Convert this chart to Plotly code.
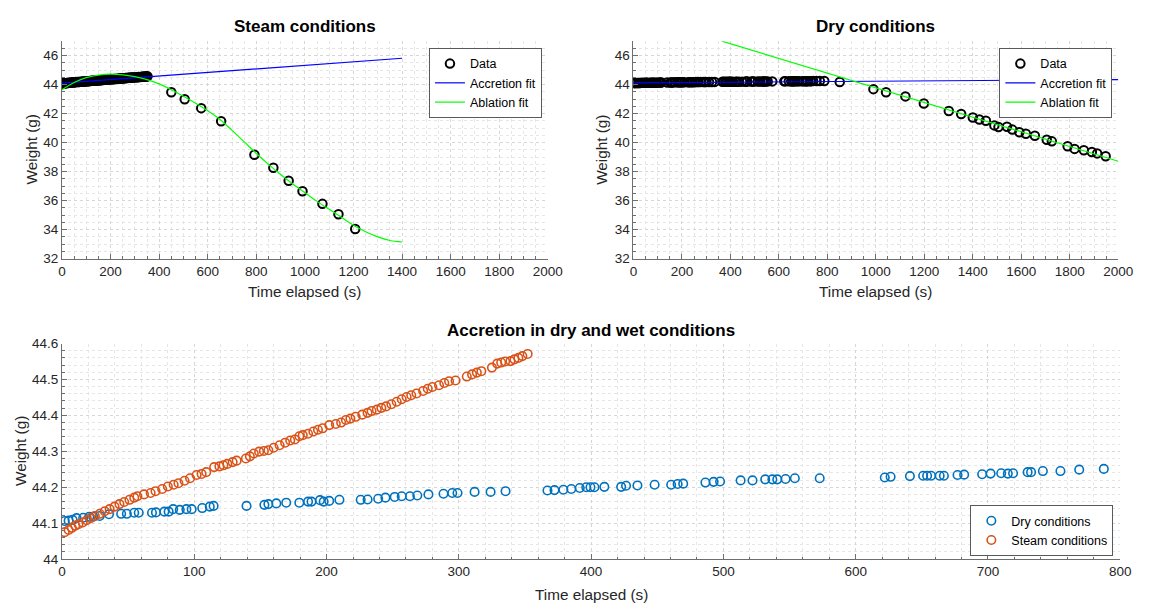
import plotly.graph_objects as go

W, H = 1149, 610

# ---------------- data ----------------
steam_acc_t = [2, 5, 7.4, 10, 12.4, 15.6, 18.6, 21.6, 24.8, 28.5, 32.3, 36, 39.7, 43.4, 47, 51, 54.6, 57, 62, 67,
               70.7, 75.7, 80, 84.4, 88, 92.6, 96.8, 101.7, 105.5, 109, 115, 119, 122, 125, 129, 132, 139, 142, 145,
               149, 152.6, 156, 160, 164.5, 168.7, 172.5, 176, 179.4, 182, 186, 190, 193.5, 197, 202, 207, 211,
               214.6, 218, 222, 227, 231, 234, 238, 241.4, 245, 249, 253, 256.8, 260.5, 264, 268, 273, 276.5, 280,
               285, 289, 292.6, 297.5, 306, 310, 313.6, 317, 325, 329, 332, 335, 339, 342, 345, 348, 352]
steam_acc_w = [44.075, 44.081, 44.087, 44.093, 44.097, 44.102, 44.108, 44.114, 44.12, 44.126, 44.133, 44.139,
               44.146, 44.153, 44.159, 44.165, 44.171, 44.175, 44.18, 44.184, 44.189, 44.195, 44.202, 44.207,
               44.211, 44.218, 44.225, 44.234, 44.237, 44.242, 44.256, 44.258, 44.261, 44.265, 44.27, 44.274,
               44.28, 44.286, 44.294, 44.299, 44.301, 44.303, 44.31, 44.317, 44.324, 44.33, 44.333, 44.342,
               44.345, 44.349, 44.355, 44.36, 44.364, 44.373, 44.376, 44.38, 44.387, 44.391, 44.396, 44.402,
               44.407, 44.412, 44.416, 44.421, 44.425, 44.431, 44.438, 44.445, 44.451, 44.456, 44.461, 44.468,
               44.474, 44.479, 44.484, 44.49, 44.495, 44.497, 44.508, 44.514, 44.519, 44.523, 44.533, 44.544,
               44.547, 44.55, 44.551, 44.556, 44.56, 44.565, 44.571]

steam_abl_t = [450, 505, 573, 655, 792, 870, 933, 990, 1072, 1138, 1207]
steam_abl_w = [43.48, 42.99, 42.38, 41.48, 39.17, 38.27, 37.37, 36.65, 35.78, 35.06, 34.04]

steam_accfit_t = [0, 1400]
steam_accfit_w = [44.1, 45.82]

steam_ablfit_t = [0, 50, 100, 150, 200, 250, 300, 350, 400, 450, 500, 550, 600, 650, 700, 750, 800, 850, 900,
                  950, 1000, 1050, 1100, 1150, 1200, 1250, 1300, 1350, 1400]
steam_ablfit_w = [43.65, 44.15, 44.48, 44.66, 44.72, 44.68, 44.55, 44.35, 44.05, 43.65, 43.2, 42.72, 42.2,
                  41.6, 40.85, 40.05, 39.25, 38.5, 37.8, 37.15, 36.55, 35.95, 35.4, 34.85, 34.3, 33.85, 33.5,
                  33.25, 33.15]

dry_acc_t = [2, 5, 8, 11, 16, 20.6, 23.6, 28.5, 35.5, 44.7, 49, 54.6, 58, 68, 71, 77.4, 80.6, 84, 89, 94, 98,
             106, 111.7, 114.6, 139.5, 153, 156, 162, 169.5, 179.4, 186, 188.6, 195, 197.8, 202, 209.7, 225.8,
             231, 239, 244.5, 251.5, 256.8, 263, 268.6, 277, 288.4, 295, 299, 311.9, 324, 335.3, 367, 372.3, 379,
             385, 391.4, 396.3, 399.5, 402.5, 410, 422.7, 426.4, 435, 448, 460.5, 465.4, 469.6, 486.4, 492.6,
             497.5, 513, 522, 531.6, 537, 540.7, 547, 554, 572.8, 622, 626.4, 641, 651, 654, 657, 663.5, 666.7,
             677, 682, 695.6, 702, 710, 715, 719, 730, 732.6, 741.5, 754.8, 769, 787.6]
dry_acc_w = [44.106, 44.107, 44.109, 44.114, 44.115, 44.118, 44.118, 44.12, 44.125, 44.126, 44.126, 44.129,
             44.129, 44.129, 44.13, 44.132, 44.132, 44.139, 44.137, 44.139, 44.139, 44.142, 44.146, 44.148,
             44.148, 44.151, 44.153, 44.155, 44.157, 44.157, 44.16, 44.16, 44.164, 44.16, 44.162, 44.165,
             44.165, 44.166, 44.168, 44.171, 44.173, 44.175, 44.175, 44.177, 44.18, 44.182, 44.184, 44.184,
             44.187, 44.187, 44.189, 44.191, 44.192, 44.193, 44.195, 44.198, 44.2, 44.2, 44.2, 44.201, 44.201,
             44.204, 44.205, 44.207, 44.207, 44.209, 44.21, 44.213, 44.215, 44.216, 44.219, 44.219, 44.222,
             44.222, 44.222, 44.223, 44.225, 44.225, 44.227, 44.229, 44.231, 44.232, 44.232, 44.232, 44.232,
             44.232, 44.234, 44.235, 44.236, 44.238, 44.239, 44.238, 44.239, 44.242, 44.242, 44.245, 44.245,
             44.249, 44.251]

dry_abl_t = [851, 990, 1042, 1122, 1198, 1301, 1352, 1400, 1427, 1454, 1489, 1506, 1541, 1563, 1592, 1619, 1656,
             1705, 1726, 1791, 1820, 1858, 1891, 1913, 1948]
dry_abl_w = [44.18, 43.69, 43.48, 43.19, 42.70, 42.18, 41.98, 41.73, 41.60, 41.51, 41.19, 41.08, 41.10, 40.90,
             40.72, 40.61, 40.47, 40.20, 40.09, 39.75, 39.57, 39.48, 39.35, 39.26, 39.06]

dry_accfit_t = [0, 2000]
dry_accfit_w = [44.12, 44.35]

dry_ablfit_t = [365, 2000]
dry_ablfit_w = [47.0, 38.72]

top_xticks = [0, 200, 400, 600, 800, 1000, 1200, 1400, 1600, 1800, 2000]
top_yticks = [32, 34, 36, 38, 40, 42, 44, 46]
bot_xticks = [0, 100, 200, 300, 400, 500, 600, 700, 800]
bot_yticks = [44.0, 44.1, 44.2, 44.3, 44.4, 44.5, 44.6]
bot_yticklabels = ["44", "44.1", "44.2", "44.3", "44.4", "44.5", "44.6"]

# ---------------- styling ----------------
FONT = "Liberation Sans, Arial, Helvetica, sans-serif"
TXT = "#262626"
AXC = "#6e6e6e"
GRID = "#d6d6d6"
MGRID = "#e6e6e6"


def px(xp):
    return xp / W


def py(yp):
    return 1 - yp / H


def axis(domain, anchor, rng, tickvals, ticktext, minor_dtick):
    return dict(
        domain=domain, anchor=anchor, range=rng, tickmode="array", tickvals=tickvals, ticktext=ticktext,
        showline=True, linecolor=AXC, linewidth=1, mirror=False,
        ticks="inside", ticklen=5, tickcolor=AXC, tickwidth=1,
        tickfont=dict(family=FONT, size=13.5, color=TXT),
        showgrid=True, gridcolor=GRID, griddash="dot", gridwidth=1,
        zeroline=False, fixedrange=True,
        minor=dict(dtick=minor_dtick, tick0=rng[0], ticks="inside", ticklen=2.5, tickcolor=AXC,
                   showgrid=True, gridcolor=MGRID, griddash="dot", gridwidth=1),
    )


fig = go.Figure()

open_black = dict(symbol="circle-open", size=8.5, color="black", line=dict(width=2, color="black"))

# Top-left: steam
fig.add_trace(go.Scatter(x=steam_acc_t + steam_abl_t, y=steam_acc_w + steam_abl_w, mode="markers",
                         marker=open_black, name="Data", xaxis="x", yaxis="y", legend="legend"))
fig.add_trace(go.Scatter(x=steam_accfit_t, y=steam_accfit_w, mode="lines", line=dict(color="#0000ff", width=1.2),
                         name="Accretion fit", xaxis="x", yaxis="y", legend="legend"))
fig.add_trace(go.Scatter(x=steam_ablfit_t, y=steam_ablfit_w, mode="lines",
                         line=dict(color="#00ff00", width=1.2, shape="spline"),
                         name="Ablation fit", xaxis="x", yaxis="y", legend="legend"))

# Top-right: dry
fig.add_trace(go.Scatter(x=dry_acc_t + dry_abl_t, y=dry_acc_w + dry_abl_w, mode="markers",
                         marker=open_black, name="Data", xaxis="x2", yaxis="y2", legend="legend2"))
fig.add_trace(go.Scatter(x=dry_accfit_t, y=dry_accfit_w, mode="lines", line=dict(color="#0000ff", width=1.2),
                         name="Accretion fit", xaxis="x2", yaxis="y2", legend="legend2"))
fig.add_trace(go.Scatter(x=dry_ablfit_t, y=dry_ablfit_w, mode="lines", line=dict(color="#00ff00", width=1.2),
                         name="Ablation fit", xaxis="x2", yaxis="y2", legend="legend2"))

# Bottom
fig.add_trace(go.Scatter(x=dry_acc_t, y=dry_acc_w, mode="markers",
                         marker=dict(symbol="circle-open", size=8.5, color="#0072BD", line=dict(width=1.6, color="#0072BD")),
                         name="Dry conditions", xaxis="x3", yaxis="y3", legend="legend3"))
fig.add_trace(go.Scatter(x=steam_acc_t, y=steam_acc_w, mode="markers",
                         marker=dict(symbol="circle-open", size=8.5, color="#D95319", line=dict(width=1.6, color="#D95319")),
                         name="Steam conditions", xaxis="x3", yaxis="y3", legend="legend3"))

top_dom_y = [py(258), py(35)]
bot_dom_y = [py(566), py(345)]

legend_style = dict(bgcolor="white", bordercolor="#5a5a5a", borderwidth=1,
                    font=dict(family=FONT, size=12.5, color="black"),
                    xanchor="right", itemwidth=30, tracegroupgap=0)

fig.update_layout(
    width=W, height=H, margin=dict(l=0, r=0, t=0, b=0),
    paper_bgcolor="white", plot_bgcolor="white", showlegend=True,
    xaxis=axis([px(59), px(553)], "y", [0, 2000], top_xticks, [str(v) for v in top_xticks], 50),
    yaxis=axis(top_dom_y, "x", [32, 47], top_yticks, [str(v) for v in top_yticks], 0.5),
    xaxis2=axis([px(640), px(1133)], "y2", [0, 2000], top_xticks, [str(v) for v in top_xticks], 50),
    yaxis2=axis(top_dom_y, "x2", [32, 47], top_yticks, [str(v) for v in top_yticks], 0.5),
    xaxis3=axis([px(59), px(1135)], "y3", [0, 800], bot_xticks, [str(v) for v in bot_xticks], 20),
    yaxis3=axis(bot_dom_y, "x3", [44, 44.6], bot_yticks, bot_yticklabels, 0.02),
    legend=dict(x=px(547), y=py(42), yanchor="top", **legend_style),
    legend2=dict(x=px(1127), y=py(42), yanchor="top", **legend_style),
    legend3=dict(x=px(1128), y=py(563), yanchor="bottom", **legend_style),
)

ann = []
title_font = dict(family=FONT, size=17, color="black")
lab_font = dict(family=FONT, size=15.3, color=TXT)
ann.append(dict(text="<b>Steam conditions</b>", x=px(306), y=py(20), font=title_font))
ann.append(dict(text="<b>Dry conditions</b>", x=px(886.5), y=py(20), font=title_font))
ann.append(dict(text="<b>Accretion in dry and wet conditions</b>", x=px(597), y=py(332), font=title_font))
ann.append(dict(text="Time elapsed (s)", x=px(306), y=py(292), font=lab_font))
ann.append(dict(text="Time elapsed (s)", x=px(886.5), y=py(292), font=lab_font))
ann.append(dict(text="Time elapsed (s)", x=px(597), y=py(602), font=lab_font))
ann.append(dict(text="Weight (g)", x=px(28), y=py(146.5), font=lab_font, textangle=-90))
ann.append(dict(text="Weight (g)", x=px(608), y=py(146.5), font=lab_font, textangle=-90))
ann.append(dict(text="Weight (g)", x=px(17), y=py(455.5), font=lab_font, textangle=-90))
for a in ann:
    a.update(xref="paper", yref="paper", showarrow=False, xanchor="center", yanchor="middle")
fig.update_layout(annotations=ann)

fig.write_html("out.html")
